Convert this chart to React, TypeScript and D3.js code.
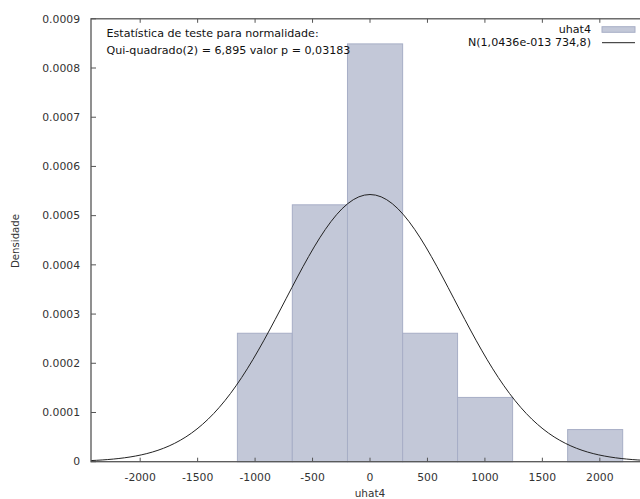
import React from "react";
import * as d3 from "d3";

// Histogram bins of uhat4 (left edge, right edge, density)
const binEdges = [-1154, -676, -196, 284, 762, 1241, 1720, 2199];
const densities = [0.000261, 0.000522, 0.000849, 0.000261, 0.0001306, 0, 0.0000653];

// Fitted normal curve parameters
const normMean = 1.0436e-13;
const normSd = 734.8;

const xTicks = [-2000, -1500, -1000, -500, 0, 500, 1000, 1500, 2000];
const yTicks = [0, 0.0001, 0.0002, 0.0003, 0.0004, 0.0005, 0.0006, 0.0007, 0.0008, 0.0009];
const yTickLabels = ["0", "0.0001", "0.0002", "0.0003", "0.0004", "0.0005", "0.0006", "0.0007", "0.0008", "0.0009"];

const W = 640;
const H = 499;
const left = 91;
const right = 649;
const top = 18.8;
const bottom = 461.7;
const font = "DejaVu Sans, Verdana, sans-serif";

export default function App() {
  const x = d3.scaleLinear().domain([-2428, 2428]).range([left, right]);
  const y = d3.scaleLinear().domain([0, 0.0009]).range([bottom, top]);

  const nSamples = 100;
  const [x0, x1] = x.domain();
  const curvePts: [number, number][] = d3.range(nSamples + 1).map((i) => {
    const v = x0 + ((x1 - x0) * i) / nSamples;
    const z = (v - normMean) / normSd;
    return [v, Math.exp(-0.5 * z * z) / (normSd * Math.sqrt(2 * Math.PI))];
  });
  const line = d3
    .line<[number, number]>()
    .x((d) => x(d[0]))
    .y((d) => y(d[1]));

  const frame = "#555";
  const txt = "#333";

  return (
    <svg
      width={W}
      height={H}
      style={{ position: "absolute", left: 0, top: 0, background: "#fff" }}
      fontFamily={font}
    >
      <defs>
        <clipPath id="plotClip">
          <rect x={left} y={top} width={right - left} height={bottom - top} />
        </clipPath>
      </defs>
      {/* bars */}
      <g>
        {densities.map((d, i) =>
          d > 0 ? (
            <rect
              key={i}
              x={x(binEdges[i])}
              y={y(d)}
              width={x(binEdges[i + 1]) - x(binEdges[i])}
              height={bottom - y(d)}
              fill="#c3c8d8"
              stroke="#a7aec6"
              strokeWidth={1}
            />
          ) : null
        )}
      </g>
      {/* normal curve */}
      <path
        d={line(curvePts) || ""}
        fill="none"
        stroke="#222"
        strokeWidth={1}
        clipPath="url(#plotClip)"
      />
      {/* frame */}
      <rect x={left} y={top} width={right - left} height={bottom - top} fill="none" stroke={frame} strokeWidth={1.3} />
      {/* y ticks */}
      {yTicks.map((t, i) => (
        <g key={i}>
          <line x1={left} x2={left + 5} y1={y(t)} y2={y(t)} stroke={frame} />
          <line x1={right} x2={right - 5} y1={y(t)} y2={y(t)} stroke={frame} />
          <text x={80} y={y(t)} dy="0.35em" textAnchor="end" fontSize={10.8} fill={txt}>
            {yTickLabels[i]}
          </text>
        </g>
      ))}
      {/* x ticks */}
      {xTicks.map((t) => (
        <g key={t}>
          <line x1={x(t)} x2={x(t)} y1={bottom} y2={bottom - 4} stroke={frame} />
          <line x1={x(t)} x2={x(t)} y1={top} y2={top + 4} stroke={frame} />
          <text x={x(t)} y={477} dy="0.35em" textAnchor="middle" fontSize={10.8} fill={txt}>
            {t}
          </text>
        </g>
      ))}
      {/* axis labels */}
      <text x={370} y={493} dy="0.35em" textAnchor="middle" fontSize={10.5} fill={txt}>
        uhat4
      </text>
      <text
        transform={`translate(15,241) rotate(-90)`}
        dy="0.35em"
        textAnchor="middle"
        fontSize={10.2}
        fill={txt}
      >
        Densidade
      </text>
      {/* test statistic */}
      <text x={106.5} y={33.3} dy="0.35em" fontSize={11.1} fill="#111">
        Estatística de teste para normalidade:
      </text>
      <text x={106.5} y={50} dy="0.35em" fontSize={11.1} fill="#111">
        Qui-quadrado(2) = 6,895 valor p = 0,03183
      </text>
      {/* legend */}
      <text x={591} y={29.5} dy="0.35em" textAnchor="end" fontSize={11.1} fill="#111">
        uhat4
      </text>
      <rect x={602} y={26.7} width={33} height={5.6} fill="#c3c8d8" stroke="#a7aec6" strokeWidth={1} />
      <text x={591} y={42.5} dy="0.35em" textAnchor="end" fontSize={11.1} fill="#111">
        N(1,0436e-013 734,8)
      </text>
      <line x1={602} x2={635} y1={42.7} y2={42.7} stroke="#222" strokeWidth={1} />
    </svg>
  );
}
